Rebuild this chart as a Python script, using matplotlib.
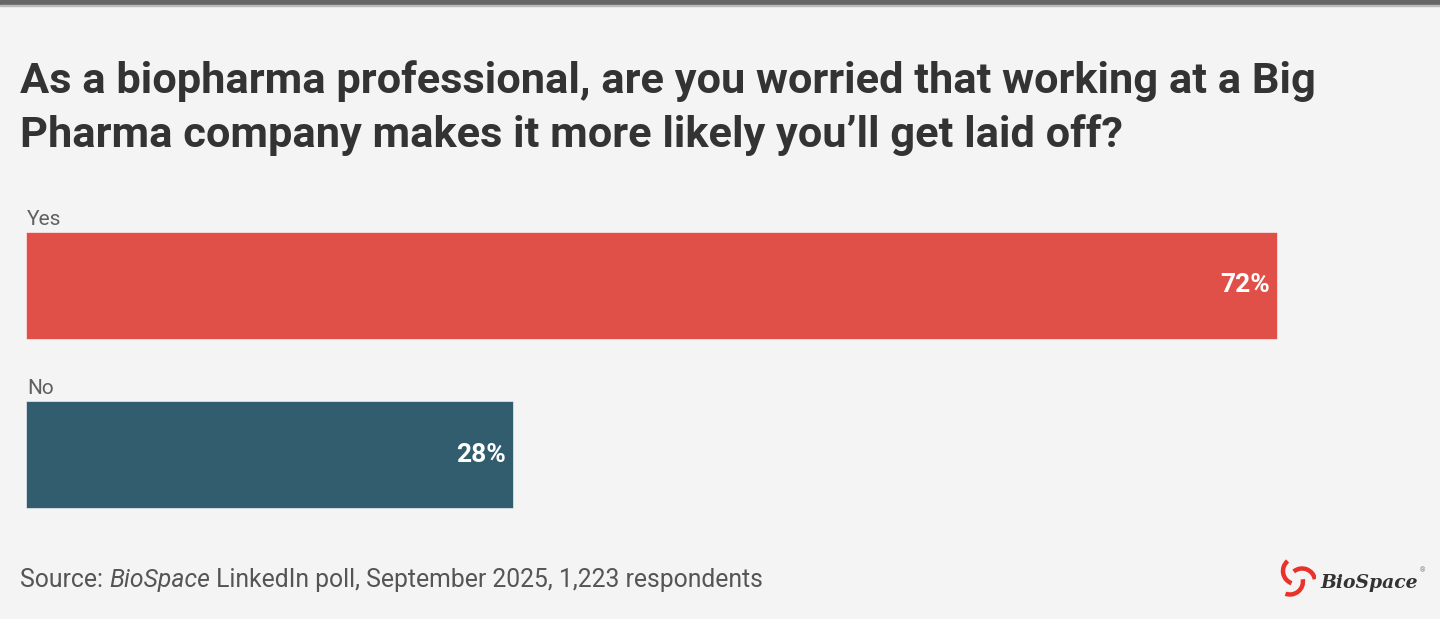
#!/usr/bin/env python
# -*- coding: utf-8 -*-

"""
BioSpace poll: Big Pharma layoff worry, horizontal bars.
"""

# Third party modules.
import numpy as np
import matplotlib
matplotlib.use("Agg")
import matplotlib.pyplot as plt
from matplotlib.patches import Arc

# Globals and constants variables.
categories = ["Yes", "No"]
shares = [72, 28]
value_labels = ["72%", "28%"]
bar_colors = ["#e05048", "#325d6f"]

title_lines = ["As a biopharma professional, are you worried that working at a Big",
               "Pharma company makes it more likely you\u2019ll get laid off?"]
source_parts = [("Source: ", "normal"), ("BioSpace", "italic"),
                (" LinkedIn poll, September 2025, 1,223 respondents", "normal")]

W, H = 1440, 619
BG = "#f4f4f4"


def px_x(x):
    return x / W


def px_y(y):
    return 1 - y / H


def draw_logo(fig):
    ax = fig.add_axes([px_x(1276), px_y(598), 40 / W, 40 / H])
    ax.set_xlim(-1, 1)
    ax.set_ylim(-1, 1)
    ax.set_aspect("equal")
    ax.axis("off")
    for angle in [90, 210, 330]:
        a = np.deg2rad(angle)
        cx, cy = 0.35 * np.cos(a), 0.35 * np.sin(a)
        ax.add_patch(Arc((cx, cy), 1.3, 1.3, theta1=angle + 40, theta2=angle + 160,
                         color="#e8322a", lw=3.2))
    fig.text(px_x(1320), px_y(588), "BioSpace", family="DejaVu Serif",
             style="italic", fontweight="bold", fontsize=13.5, color="#333333",
             va="baseline")
    fig.text(px_x(1420), px_y(572), "\u00ae", fontsize=5, color="#777777", va="baseline")


def make_chart():
    plt.rcParams["font.family"] = ["Roboto", "DejaVu Sans"]
    fig = plt.figure(figsize=(W / 100, H / 100), dpi=100, facecolor=BG)

    # Top band.
    fig.patches.append(plt.Rectangle((0, px_y(5)), 1, 5 / H, transform=fig.transFigure,
                                     color="#666666", zorder=0))
    fig.patches.append(plt.Rectangle((0, px_y(6)), 1, 1 / H, transform=fig.transFigure,
                                     color="#bbbbbb", zorder=0))

    # Title.
    for line, baseline in zip(title_lines, [93, 147]):
        fig.text(px_x(20), px_y(baseline), line, fontsize=31.2, fontweight="bold",
                 color="#333333", va="baseline")

    # Bars.
    left, right, top, bottom = 26, 1440, 200, 520
    ax = fig.add_axes([px_x(left), px_y(bottom), (right - left) / W, (bottom - top) / H])
    ax.set_facecolor(BG)
    unit = 169.0
    bar_h = 107 / unit
    ax.set_ylim((bottom - 285.5) / unit, (top - 285.5) / unit)
    ax.set_xlim(0, shares[0] * (right - left) / 1251.0)
    y = np.arange(len(categories))
    ax.barh(y, shares, height=bar_h, color=bar_colors, edgecolor="#ffffff", linewidth=0.4)
    for yi, cat, val, lab in zip(y, categories, shares, value_labels):
        ax.annotate(cat, xy=(0, yi - bar_h / 2), xytext=(1, 7), textcoords="offset pixels",
                    ha="left", va="baseline", fontsize=15, color="#606060")
        ax.annotate(lab, xy=(val, yi), xytext=(-7, 0), textcoords="offset pixels",
                    ha="right", va="center", fontsize=19, fontweight="bold", color="white")
    ax.axis("off")

    # Source line, pieced together.
    renderer = fig.canvas.get_renderer()
    x = px_x(20)
    for txt, style in source_parts:
        t = fig.text(x, px_y(587), txt, fontsize=17.8, style=style, color="#555555",
                     va="baseline")
        bb = t.get_window_extent(renderer)
        x = bb.x1 / W

    draw_logo(fig)

    fig.savefig("out.png", dpi=100, facecolor=BG)


if __name__ == "__main__":
    make_chart()
